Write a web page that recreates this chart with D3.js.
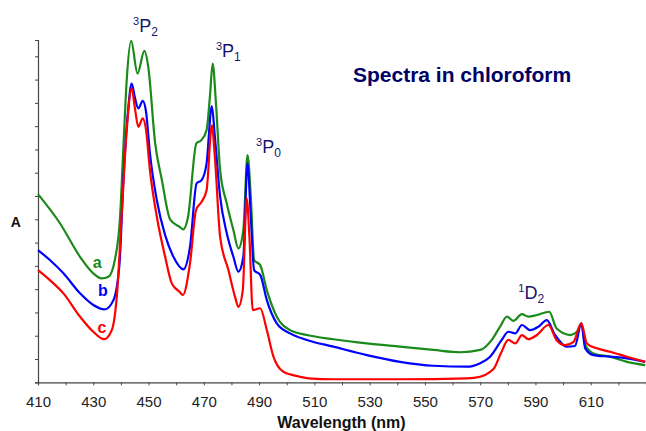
<!DOCTYPE html>
<meta charset="utf-8">
<script src="https://d3js.org/d3.v7.min.js"></script>
<style>
  body { margin: 0; background: #fff; }
  text { font-family: "Liberation Sans", Arial, Helvetica, sans-serif; }
  .axis path, .axis line { stroke: #444; }
  .axis text { font-size: 15px; fill: #222; }
</style>
<body>
<div id="my_dataviz"></div>
<script>

// curve a (green)
var wlA = [410, 418, 425.2, 430, 433, 435.5, 437.8, 439.7, 440.9, 442.1, 443.7, 446, 448.5, 449.9, 452.4, 454.8, 457.8, 461.2, 462.6, 464.3, 467.3, 469.1, 471, 472.2, 473.2, 474.4, 475.9, 478.3, 480.7, 482.5, 484.3, 485.8, 487, 488.2, 490.4, 492.8, 496.4, 501.2, 507.3, 516.9, 529, 541, 553.1, 562.8, 570, 574.2, 577.2, 579.7, 582, 585.1, 587.4, 590.5, 595, 597.6, 602.6, 605, 606.6, 608, 611, 617, 623.1, 629.7];
var absA = [0.808, 0.682, 0.539, 0.468, 0.446, 0.453, 0.525, 0.711, 1.011, 1.297, 1.466, 1.326, 1.423, 1.354, 1.026, 0.87, 0.70, 0.668, 0.657, 0.711, 1.026, 1.04, 1.083, 1.226, 1.369, 1.197, 0.911, 0.768, 0.654, 0.575, 0.654, 0.976, 0.797, 0.525, 0.503, 0.396, 0.282, 0.224, 0.203, 0.185, 0.167, 0.153, 0.139, 0.129, 0.139, 0.182, 0.239, 0.282, 0.264, 0.293, 0.282, 0.289, 0.303, 0.232, 0.203, 0.217, 0.253, 0.16, 0.124, 0.11, 0.088, 0.074];

// curve b (blue)
var wlB = [410, 414.3, 419.2, 425.2, 430, 434.1, 437.3, 439.5, 440.9, 442.5, 443.9, 445, 446.3, 447.9, 449.1, 450.5, 453, 456, 459, 462.6, 465, 467.4, 469.2, 471, 472.9, 474, 475.9, 478.3, 480.7, 482.5, 484.3, 485.8, 487, 488.2, 490.4, 492.8, 496.4, 501.2, 507.3, 516.9, 529, 541, 553.1, 565.2, 570, 573.6, 577.8, 580.2, 582.7, 585.1, 588.1, 591.1, 594.1, 597.1, 601.4, 604.3, 606.6, 608, 611, 617, 623.1, 629.7];
var absB = [0.568, 0.525, 0.468, 0.382, 0.332, 0.313, 0.353, 0.511, 0.868, 1.155, 1.283, 1.226, 1.176, 1.209, 1.161, 0.983, 0.782, 0.632, 0.539, 0.485, 0.582, 0.854, 0.868, 0.94, 1.186, 1.054, 0.797, 0.64, 0.539, 0.475, 0.539, 0.94, 0.711, 0.482, 0.461, 0.353, 0.253, 0.21, 0.182, 0.153, 0.117, 0.088, 0.071, 0.067, 0.082, 0.11, 0.182, 0.217, 0.21, 0.246, 0.224, 0.239, 0.267, 0.203, 0.153, 0.156, 0.253, 0.146, 0.117, 0.11, 0.103, 0.088];

// curve c (red)
var wlC = [410, 414.3, 419.2, 425.2, 430, 433.9, 436.7, 438.7, 440.3, 442.1, 443.9, 445, 446.3, 447.9, 449.1, 450.5, 453, 456, 458.4, 461.2, 462.4, 465, 467.2, 469.2, 471, 472.9, 474, 475.9, 478.9, 481.3, 482.5, 484.1, 485.5, 486.5, 487.7, 490.4, 492.8, 495.2, 498.8, 504.8, 507.8, 517, 541, 565.2, 570, 573.6, 575, 577.5, 580.2, 582.7, 585.1, 587.4, 590.5, 594.7, 597.6, 600.7, 603.8, 606.6, 608.6, 612.2, 617, 623.1, 629.7];
var absC = [0.482, 0.439, 0.382, 0.282, 0.217, 0.185, 0.224, 0.396, 0.725, 1.083, 1.262, 1.183, 1.097, 1.133, 1.083, 0.911, 0.711, 0.539, 0.425, 0.389, 0.375, 0.511, 0.74, 0.775, 0.825, 1.104, 0.968, 0.625, 0.482, 0.367, 0.324, 0.396, 0.79, 0.625, 0.31, 0.318, 0.224, 0.11, 0.045, 0.024, 0.017, 0.013, 0.013, 0.017, 0.024, 0.045, 0.06, 0.125, 0.182, 0.167, 0.203, 0.185, 0.203, 0.246, 0.182, 0.16, 0.174, 0.253, 0.167, 0.146, 0.131, 0.11, 0.088];

var xTicks = d3.range(410, 631, 10);
var yTicks = d3.range(0, 1.41, 0.1);

// band labels: [superscript, letter, subscript, wavelength at left edge, absorbance at baseline]
var bandLabels = [
    ["3", "P", "2", 444.4, 1.503],
    ["3", "P", "1", 474.4, 1.396],
    ["3", "P", "0", 488.9, 0.984],
    ["1", "D", "2", 583.8, 0.358]
];

var svg = d3.select("#my_dataviz")
    .append("svg")
        .attr("width", 646)
        .attr("height", 431);

var x = d3.scaleLinear()
    .domain([410, 630])
    .range([38, 646]);

var y = d3.scaleLinear()
    .domain([0, 1.47])
    .range([382.3, 40]);

svg.append("g")
    .attr("class", "axis")
    .attr("transform", "translate(0,382.3)")
    .call(d3.axisBottom(x)
        .tickValues(xTicks)
        .tickSize(3)
        .tickSizeOuter(3)
        .tickPadding(11)
        .tickFormat(function(d) {
            return ((d - 410) % 20 == 0 && d <= 610) ? d : "";
        }));

svg.append("g")
    .attr("class", "axis")
    .attr("transform", "translate(38,0)")
    .call(d3.axisLeft(y)
        .tickValues(yTicks)
        .tickSize(3)
        .tickSizeOuter(3)
        .tickFormat(""));

svg.selectAll(".axis .domain").attr("stroke-width", 1.2);

var series = [
    {wl: wlA, abs: absA, color: "#1a8a1a", name: "a", lx: 431.4, ly: 0.491},
    {wl: wlB, abs: absB, color: "#0000ff", name: "b", lx: 433.5, ly: 0.371},
    {wl: wlC, abs: absC, color: "#ff0000", name: "c", lx: 433.1, ly: 0.211}
];

var line = d3.line()
    .x(function(d) { return x(d[0]); })
    .y(function(d) { return y(d[1]); })
    .curve(d3.curveMonotoneX);

series.forEach(function(s) {
    var pts = s.wl.map(function(w, i) { return [w, s.abs[i]]; });
    svg.append("path")
        .datum(pts)
        .attr("fill", "none")
        .attr("stroke", s.color)
        .attr("stroke-width", 2.2)
        .attr("stroke-linejoin", "round")
        .attr("d", line);

    svg.append("text")
        .attr("x", x(s.lx))
        .attr("y", y(s.ly))
        .attr("text-anchor", "middle")
        .attr("font-size", "16px")
        .attr("font-weight", "bold")
        .attr("fill", s.color)
        .text(s.name);
});

// term symbols
bandLabels.forEach(function(b) {
    var t = svg.append("text")
        .attr("x", x(b[3]))
        .attr("y", y(b[4]))
        .attr("fill", "#141470")
        .attr("font-size", "18px");
    t.append("tspan").attr("font-size", "11px").attr("dy", -7).text(b[0]);
    t.append("tspan").attr("dy", 7).text(b[1]);
    t.append("tspan").attr("font-size", "12px").attr("dy", 4).text(b[2]);
});

svg.append("text")
    .attr("x", 353)
    .attr("y", 82)
    .attr("font-size", "21px")
    .attr("font-weight", "bold")
    .attr("fill", "#000066")
    .text("Spectra in chloroform");

svg.append("text")
    .attr("x", 341.5)
    .attr("y", 428)
    .attr("text-anchor", "middle")
    .attr("font-size", "16px")
    .attr("font-weight", "bold")
    .attr("fill", "#111")
    .text("Wavelength (nm)");

svg.append("text")
    .attr("x", 15.7)
    .attr("y", 226.7)
    .attr("text-anchor", "middle")
    .attr("font-size", "14px")
    .attr("font-weight", "bold")
    .attr("fill", "#111")
    .text("A");

</script>
</body>
